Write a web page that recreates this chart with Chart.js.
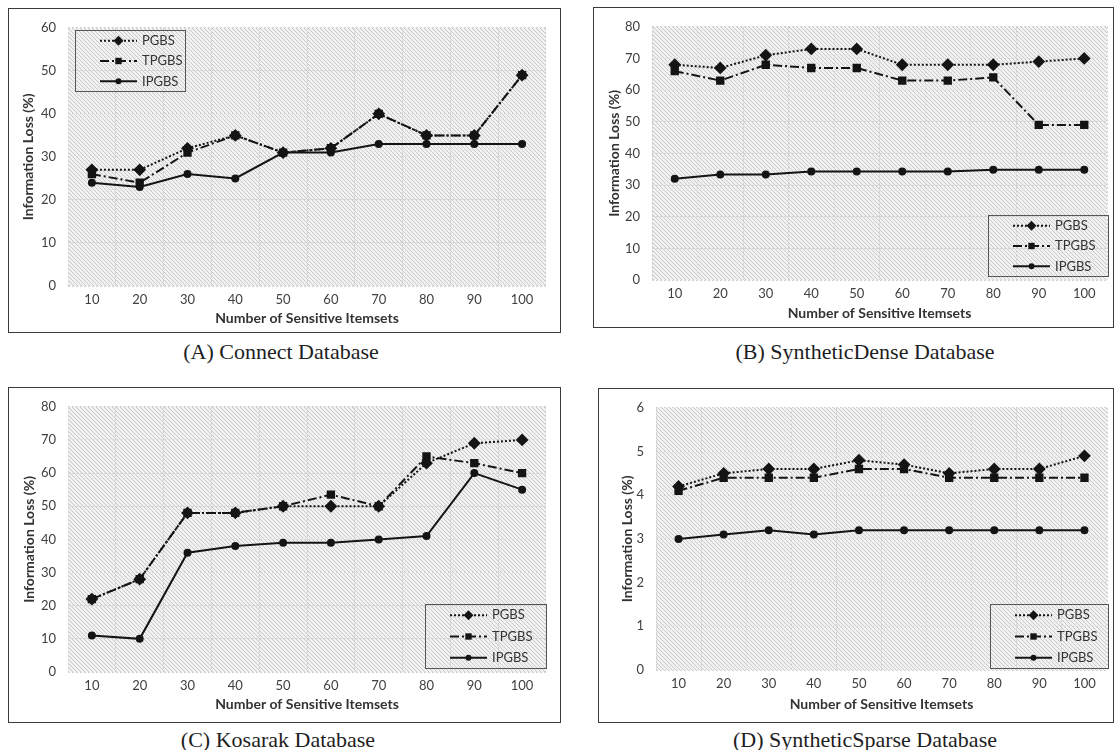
<!DOCTYPE html>
<html>
<head>
<meta charset="utf-8">
<script src="https://cdn.jsdelivr.net/npm/chart.js@4/dist/chart.umd.min.js"></script>
<style>
  body { margin: 0; background: #fff; width: 1118px; height: 750px; position: relative; overflow: hidden; }
  .frame { position: absolute; box-sizing: border-box; border: 1.5px solid #3a3a3a; }
  canvas { position: absolute; }
  .cap { position: absolute; transform: translate(-50%, -50%); font-family: "Liberation Serif", serif; font-size: 22px; color: #1e1e1e; white-space: nowrap; }
</style>
</head>
<body>
<div class="frame" style="left:8px;top:8px;width:553px;height:325px"></div>
<div class="frame" style="left:593px;top:7px;width:521px;height:321px"></div>
<div class="frame" style="left:8px;top:387px;width:553px;height:336px"></div>
<div class="frame" style="left:598px;top:388px;width:516px;height:335px"></div>

<canvas id="chartA" width="553" height="325" style="left:8px;top:8px"></canvas>
<canvas id="chartB" width="521" height="321" style="left:593px;top:7px"></canvas>
<canvas id="chartC" width="553" height="336" style="left:8px;top:387px"></canvas>
<canvas id="chartD" width="516" height="335" style="left:598px;top:388px"></canvas>

<div class="cap" style="left:281px;top:352px">(A) Connect Database</div>
<div class="cap" style="left:865px;top:352px">(B) SyntheticDense Database</div>
<div class="cap" style="left:278px;top:740px">(C) Kosarak Database</div>
<div class="cap" style="left:865px;top:740px">(D) SyntheticSparse Database</div>

<script>
// sumbu x: jumlah sensitive itemsets
const labels = ['10', '20', '30', '40', '50', '60', '70', '80', '90', '100'];
const seriesNames = ['PGBS', 'TPGBS', 'IPGBS'];

// (A) Connect
const connectPGBS = [27, 27, 32, 35, 31, 32, 40, 35, 35, 49];
const connectTPGBS = [26, 24, 31, 35, 31, 32, 40, 35, 35, 49];
const connectIPGBS = [24, 23, 26, 25, 31, 31, 33, 33, 33, 33];

// (B) SyntheticDense
const densePGBS = [68, 67, 71, 73, 73, 68, 68, 68, 69, 70];
const denseTPGBS = [66, 63, 68, 67, 67, 63, 63, 64, 49, 49];
const denseIPGBS = [32, 33.3, 33.3, 34.3, 34.3, 34.3, 34.3, 34.8, 34.8, 34.8];

// (C) Kosarak
const kosarakPGBS = [22, 28, 48, 48, 50, 50, 50, 63, 69, 70];
const kosarakTPGBS = [22, 28, 48, 48, 50, 53.5, 50, 65, 63, 60];
const kosarakIPGBS = [11, 10, 36, 38, 39, 39, 40, 41, 60, 55];

// (D) SyntheticSparse
const sparsePGBS = [4.2, 4.5, 4.6, 4.6, 4.8, 4.7, 4.5, 4.6, 4.6, 4.9];
const sparseTPGBS = [4.1, 4.4, 4.4, 4.4, 4.6, 4.6, 4.4, 4.4, 4.4, 4.4];
const sparseIPGBS = [3.0, 3.1, 3.2, 3.1, 3.2, 3.2, 3.2, 3.2, 3.2, 3.2];

const ink = '#141414';

// pola arsir diagonal untuk area plot
const tile = document.createElement('canvas');
tile.width = 4; tile.height = 4;
const tctx = tile.getContext('2d');
tctx.fillStyle = '#f1f1f1';
tctx.fillRect(0, 0, 4, 4);
tctx.fillStyle = '#cacaca';
for (let y = 0; y < 4; y++) {
    for (let x = 0; x < 4; x++) {
        if ((x - y + 4) % 4 === 0) tctx.fillRect(x, y, 1, 1);
    }
}

const hatchBg = {
    id: 'hatchBg',
    beforeDraw(chart) {
        const { ctx, chartArea: a } = chart;
        ctx.save();
        ctx.fillStyle = ctx.createPattern(tile, 'repeat');
        ctx.fillRect(a.left, a.top, a.right - a.left, a.bottom - a.top);
        ctx.restore();
    }
};

function drawMarker(ctx, style, r, x, y) {
    ctx.beginPath();
    if (style === 'rectRot') {
        ctx.moveTo(x, y - r); ctx.lineTo(x + r, y); ctx.lineTo(x, y + r); ctx.lineTo(x - r, y);
        ctx.closePath();
    } else if (style === 'rect') {
        const s = r * Math.SQRT2;
        ctx.rect(x - s / 2, y - s / 2, s, s);
    } else {
        ctx.arc(x, y, r, 0, Math.PI * 2);
    }
    ctx.fill();
}

// legenda kotak dengan contoh garis + penanda
const boxLegend = {
    id: 'boxLegend',
    afterDatasetsDraw(chart, args, opts) {
        const ctx = chart.ctx;
        ctx.save();
        ctx.strokeStyle = '#555';
        ctx.lineWidth = 1;
        ctx.strokeRect(opts.x + 0.5, opts.y + 0.5, opts.w, opts.h);
        chart.data.datasets.forEach((ds, i) => {
            const cy = opts.y + opts.h * (2 * i + 1) / 6 + 0.5;
            const x0 = opts.x + 25, x1 = opts.x + 62;
            ctx.strokeStyle = ds.borderColor;
            ctx.lineWidth = ds.borderWidth;
            ctx.setLineDash(ds.borderDash || []);
            ctx.beginPath();
            ctx.moveTo(x0, cy); ctx.lineTo(x1, cy);
            ctx.stroke();
            ctx.setLineDash([]);
            ctx.fillStyle = ds.borderColor;
            drawMarker(ctx, ds.pointStyle, ds.pointRadius, (x0 + x1) / 2, cy);
            ctx.fillStyle = '#333';
            ctx.font = '13px Lato';
            ctx.textBaseline = 'middle';
            ctx.fillText(ds.label, opts.x + 67, cy);
        });
        ctx.restore();
    }
};

function makeDatasets(p, t, ip) {
    return [
        { label: seriesNames[0], data: p, borderColor: ink, backgroundColor: ink, borderWidth: 2,
          borderDash: [2, 2], pointStyle: 'rectRot', pointRadius: 5, tension: 0 },
        { label: seriesNames[1], data: t, borderColor: ink, backgroundColor: ink, borderWidth: 2,
          borderDash: [9, 3, 2, 3], pointStyle: 'rect', pointRadius: 4.5, tension: 0 },
        { label: seriesNames[2], data: ip, borderColor: ink, backgroundColor: ink, borderWidth: 2,
          pointStyle: 'circle', pointRadius: 3, tension: 0 }
    ];
}

function makeChart(id, frame, plot, yMax, yStep, datasets, legend, yTitlePad, xTitlePad) {
    const L = plot.l - frame.x, T = plot.t - frame.y, R = plot.r - frame.x, B = plot.b - frame.y;
    return new Chart(document.getElementById(id), {
        type: 'line',
        data: { labels: labels, datasets: datasets },
        options: {
            responsive: false,
            animation: false,
            layout: { padding: { left: 0, top: T, right: frame.w - R, bottom: 0 } },
            plugins: {
                legend: { display: false },
                tooltip: { enabled: false },
                boxLegend: { x: legend.x - frame.x, y: legend.y - frame.y, w: legend.w, h: legend.h }
            },
            scales: {
                x: {
                    offset: true,
                    afterFit: (s) => { s.height = frame.h - B; },
                    grid: { color: '#d2d2d2', drawTicks: false, offset: true },
                    border: { display: false, dash: [2, 2] },
                    ticks: { color: '#404040', font: { family: 'Lato', size: 13 }, padding: 6 },
                    title: { display: true, text: 'Number of Sensitive Itemsets', color: '#333',
                             font: { family: 'Lato', size: 14, weight: 'bold' }, padding: { top: 0, bottom: xTitlePad } }
                },
                y: {
                    min: 0, max: yMax,
                    afterFit: (s) => { s.width = L; },
                    grid: { color: '#d2d2d2', drawTicks: false },
                    border: { display: false, dash: [2, 2] },
                    ticks: { stepSize: yStep, color: '#404040', font: { family: 'Lato', size: 13 }, padding: 12 },
                    title: { display: true, text: 'Information Loss (%)', color: '#333',
                             font: { family: 'Lato', size: 14, weight: 'bold' }, padding: { top: yTitlePad, bottom: 0 } }
                }
            }
        },
        plugins: [hatchBg, boxLegend]
    });
}

makeChart('chartA', { x: 8, y: 8, w: 553, h: 325 }, { l: 68, t: 24, r: 546, b: 286 }, 60, 10,
    makeDatasets(connectPGBS, connectTPGBS, connectIPGBS), { x: 75, y: 30, w: 110, h: 61 }, 12, 6);

makeChart('chartB', { x: 593, y: 7, w: 521, h: 321 }, { l: 652, t: 24, r: 1111, b: 280 }, 80, 10,
    makeDatasets(densePGBS, denseTPGBS, denseIPGBS), { x: 988, y: 215, w: 120, h: 61 }, 13, 6);

makeChart('chartC', { x: 8, y: 387, w: 553, h: 336 }, { l: 68, t: 405, r: 546, b: 672 }, 80, 10,
    makeDatasets(kosarakPGBS, kosarakTPGBS, kosarakIPGBS), { x: 425, y: 604, w: 121, h: 64 }, 13, 10);

makeChart('chartD', { x: 598, y: 388, w: 516, h: 335 }, { l: 656, t: 407, r: 1111, b: 670 }, 6, 1,
    makeDatasets(sparsePGBS, sparseTPGBS, sparseIPGBS), { x: 990, y: 604, w: 118, h: 64 }, 21, 10);
</script>
</body>
</html>
